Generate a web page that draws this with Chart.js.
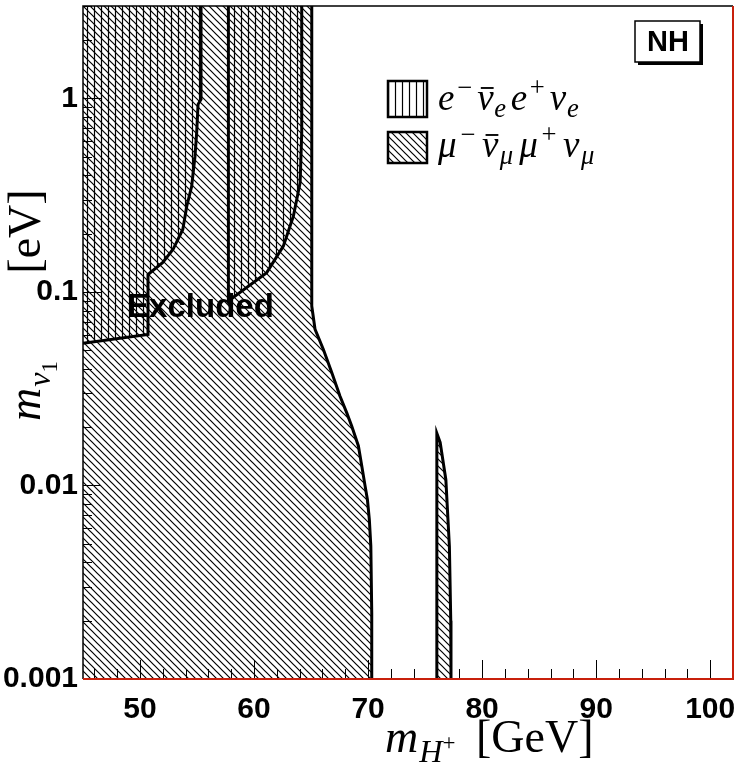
<!DOCTYPE html>
<html>
<head>
<meta charset="utf-8">
<title>Charged Higgs exclusion, NH</title>
<script src="https://cdn.jsdelivr.net/npm/chart.js"></script>
<style>
  html, body { margin: 0; padding: 0; background: #fff; }
</style>
</head>
<body>
<canvas id="chart" width="735" height="762"></canvas>
<script>
// contours: x = m_H+ [GeV], y = m_nu1 [eV]
const muEdgeX = [65.06, 65.06, 65.35, 66.08, 66.82, 67.54, 68.13, 68.57, 69.15, 69.45, 69.74, 69.94, 70.11, 70.24, 70.32, 70.32];
const muEdgeY = [3, 0.0845, 0.064, 0.0504, 0.0382, 0.0289, 0.0237, 0.0202, 0.016, 0.01258, 0.00992, 0.00846, 0.00667, 0.00486, 0.0022, 0.001];

const islandX = [76.03, 76.03, 76.32, 76.82, 77.13, 77.25, 77.27];
const islandY = [0.001, 0.0186, 0.0167, 0.0107, 0.00484, 0.002, 0.001];

const e1EdgeX = [55.35, 55.35, 55.09, 54.97, 54.82, 54.53, 54.1, 53.75, 52.9, 52.0, 50.7, 50.7, 45];
const e1EdgeY = [3, 0.988, 0.931, 0.667, 0.501, 0.351, 0.277, 0.21, 0.166, 0.142, 0.123, 0.0603, 0.0542];

const e2EdgeX = [57.75, 57.75, 61.11, 62.57, 63.45, 64.04, 64.18, 64.18];
const e2EdgeY = [3, 0.0897, 0.1257, 0.1724, 0.2464, 0.3667, 0.665, 3];

const xRange = [45, 102];
const yRange = [0.001, 3];
const xTickVals = [50, 60, 70, 80, 90, 100];
const xTickLabels = ['50', '60', '70', '80', '90', '100'];
const yTickVals = [0.001, 0.01, 0.1, 1];
const yTickLabels = ['0.001', '0.01', '0.1', '1'];

const pts = (xs, ys) => xs.map((x, i) => ({ x, y: ys[i] }));

function hatch(kind) {
  const s = 7;
  const c = document.createElement('canvas');
  c.width = s; c.height = s;
  const g = c.getContext('2d');
  g.strokeStyle = '#000';
  g.lineWidth = 1.2;
  g.beginPath();
  if (kind === 'v') {
    g.moveTo(3.5, 0); g.lineTo(3.5, s);
  } else {
    g.moveTo(-1, -1); g.lineTo(s + 1, s + 1);
    g.moveTo(-1, s - 1); g.lineTo(1, s + 1);
    g.moveTo(s - 1, -1); g.lineTo(s + 1, 1);
  }
  g.stroke();
  return g.createPattern(c, 'repeat');
}
const diag = hatch('d');
const vert = hatch('v');

// little math typesetter: italic by default, r = roman, s = scale, dy = shift (in em)
function mathText(ctx, parts, x, y, size, draw) {
  let cx = x;
  for (const p of parts) {
    const sz = size * (p.s || 1);
    ctx.font = (p.r ? '' : 'italic ') + sz + 'px "Liberation Serif"';
    const w = ctx.measureText(p.t).width;
    if (draw) {
      const yy = y + (p.dy || 0) * size;
      ctx.fillText(p.t, cx, yy);
      if (p.bar) ctx.fillRect(cx + w * 0.22, yy - sz * 0.62, w * 0.78, Math.max(1.5, sz * 0.05));
    }
    cx += w + (p.gap || 0) * size;
  }
  return cx - x;
}

const legendE = [
  { t: 'e', gap: 0.07 }, { t: '\u2212', r: 1, s: 0.72, dy: -0.38, gap: 0.14 },
  { t: '\u03bd', bar: 1, gap: 0.02 }, { t: 'e', s: 0.72, dy: 0.2, gap: 0.12 },
  { t: 'e', gap: 0.07 }, { t: '+', r: 1, s: 0.72, dy: -0.38, gap: 0.14 },
  { t: '\u03bd', gap: 0.02 }, { t: 'e', s: 0.72, dy: 0.2 }
];
const legendMu = [
  { t: '\u03bc', gap: 0.1 }, { t: '\u2212', r: 1, s: 0.72, dy: -0.38, gap: 0.18 },
  { t: '\u03bd', bar: 1, gap: 0.04 }, { t: '\u03bc', s: 0.72, dy: 0.2, gap: 0.16 },
  { t: '\u03bc', gap: 0.1 }, { t: '+', r: 1, s: 0.72, dy: -0.38, gap: 0.18 },
  { t: '\u03bd', gap: 0.04 }, { t: '\u03bc', s: 0.72, dy: 0.2 }
];
const xTitle = [
  { t: 'm', gap: 0.02 }, { t: 'H', s: 0.7, dy: 0.22 }, { t: '+', r: 1, s: 0.5, dy: -0.05, gap: 0.45 },
  { t: '[GeV]', r: 1 }
];
const yTitle = [
  { t: 'm', gap: 0.02 }, { t: '\u03bd', s: 0.7, dy: 0.22 }, { t: '1', r: 1, s: 0.5, dy: 0.36, gap: 1.9 },
  { t: '[eV]', r: 1 }
];

const decor = {
  id: 'decor',
  afterDatasetsDraw(chart) {
    const { ctx, chartArea: a, scales: { x, y } } = chart;
    ctx.save();

    // ticks inside the frame
    ctx.strokeStyle = '#000';
    ctx.lineWidth = 1;
    for (let v = 46; v < xRange[1]; v += 2) {
      const px = Math.round(x.getPixelForValue(v)) + 0.5;
      ctx.beginPath();
      ctx.moveTo(px, a.bottom);
      ctx.lineTo(px, a.bottom - (v % 10 === 0 ? 19 : 10));
      ctx.stroke();
    }
    for (let d = 0.001; d < 5; d *= 10) {
      for (let k = 1; k <= 9; k++) {
        const v = d * k;
        if (v > yRange[1] * 1.001) break;
        const py = Math.round(y.getPixelForValue(v)) + 0.5;
        ctx.beginPath();
        ctx.moveTo(a.left, py);
        ctx.lineTo(a.left + (k === 1 ? 18 : 9), py);
        ctx.stroke();
      }
    }

    // frame
    ctx.lineWidth = 1.5;
    ctx.strokeStyle = '#000';
    ctx.beginPath();
    ctx.moveTo(a.left, a.bottom); ctx.lineTo(a.left, a.top); ctx.lineTo(a.right, a.top);
    ctx.stroke();
    ctx.strokeStyle = '#c8200c';
    ctx.lineWidth = 2;
    ctx.beginPath();
    ctx.moveTo(a.left, a.bottom); ctx.lineTo(a.right, a.bottom); ctx.lineTo(a.right, a.top);
    ctx.stroke();

    // "Excluded"
    ctx.fillStyle = '#000';
    ctx.font = 'bold 33px "Liberation Sans"';
    ctx.textAlign = 'center';
    ctx.textBaseline = 'middle';
    ctx.fillText('Excluded', x.getPixelForValue(55.3), y.getPixelForValue(0.083));

    // NH box
    ctx.fillRect(638, 24, 65, 41);
    ctx.fillStyle = '#fff';
    ctx.fillRect(635, 21, 65, 41);
    ctx.strokeStyle = '#000';
    ctx.lineWidth = 1.5;
    ctx.strokeRect(635, 21, 65, 41);
    ctx.fillStyle = '#000';
    ctx.font = 'bold 29px "Liberation Sans"';
    ctx.fillText('NH', 668, 43);

    // legend
    ctx.textAlign = 'left';
    ctx.textBaseline = 'alphabetic';
    ctx.lineWidth = 2.5;
    ctx.fillStyle = vert;
    ctx.fillRect(388, 81, 39, 36);
    ctx.strokeRect(388, 81, 39, 36);
    ctx.fillStyle = diag;
    ctx.fillRect(388, 132, 39, 31);
    ctx.strokeRect(388, 132, 39, 31);
    ctx.fillStyle = '#000';
    mathText(ctx, legendE, 438, 110, 37, true);
    mathText(ctx, legendMu, 438, 157, 37, true);

    // axis titles
    mathText(ctx, xTitle, 385, 752, 46, true);
    ctx.translate(40, 421);
    ctx.rotate(-Math.PI / 2);
    mathText(ctx, yTitle, 0, 0, 46, true);

    ctx.restore();
  }
};

const fillSet = (data, pattern, order) => ({
  data, showLine: true, pointRadius: 0, borderWidth: 0,
  backgroundColor: pattern, fill: 'shape', order
});
const edgeSet = (data) => ({
  data, showLine: true, pointRadius: 0, borderWidth: 3,
  borderColor: '#000', borderJoinStyle: 'miter', fill: false, order: 0
});

const noPad = s => { s.paddingTop = 0; s.paddingBottom = 0; s.paddingLeft = 0; s.paddingRight = 0; };

new Chart(document.getElementById('chart'), {
  type: 'scatter',
  data: {
    datasets: [
      edgeSet(pts(muEdgeX, muEdgeY)),
      edgeSet(pts(islandX, islandY)),
      edgeSet(pts(e1EdgeX, e1EdgeY)),
      edgeSet(pts(e2EdgeX, e2EdgeY)),
      fillSet(pts([45, ...e1EdgeX], [3, ...e1EdgeY]), vert, 1),
      fillSet(pts(e2EdgeX, e2EdgeY), vert, 1),
      fillSet(pts([45, ...muEdgeX, 45], [3, ...muEdgeY, 0.001]), diag, 2),
      fillSet(pts(islandX, islandY), diag, 2)
    ]
  },
  options: {
    responsive: false,
    animation: false,
    layout: { padding: { top: 6, right: 2, left: 0, bottom: 0 } },
    plugins: { legend: { display: false }, tooltip: { enabled: false } },
    scales: {
      x: {
        type: 'linear', min: xRange[0], max: xRange[1],
        grid: { display: false, drawTicks: false },
        border: { display: false },
        afterBuildTicks: s => { s.ticks = xTickVals.map(v => ({ value: v })); },
        afterFit: s => { s.height = 83; noPad(s); },
        ticks: {
          autoSkip: false, maxRotation: 0, padding: 13, color: '#000',
          font: { family: 'Liberation Sans', size: 30, weight: 'bold' },
          callback: (v, i) => xTickLabels[i]
        }
      },
      y: {
        type: 'logarithmic', min: yRange[0], max: yRange[1],
        grid: { display: false, drawTicks: false },
        border: { display: false },
        afterBuildTicks: s => { s.ticks = yTickVals.map(v => ({ value: v })); },
        afterFit: s => { s.width = 83; noPad(s); },
        ticks: {
          autoSkip: false, padding: 5, color: '#000',
          font: { family: 'Liberation Sans', size: 30, weight: 'bold' },
          callback: (v, i) => yTickLabels[i]
        }
      }
    }
  },
  plugins: [decor]
});
</script>
</body>
</html>
